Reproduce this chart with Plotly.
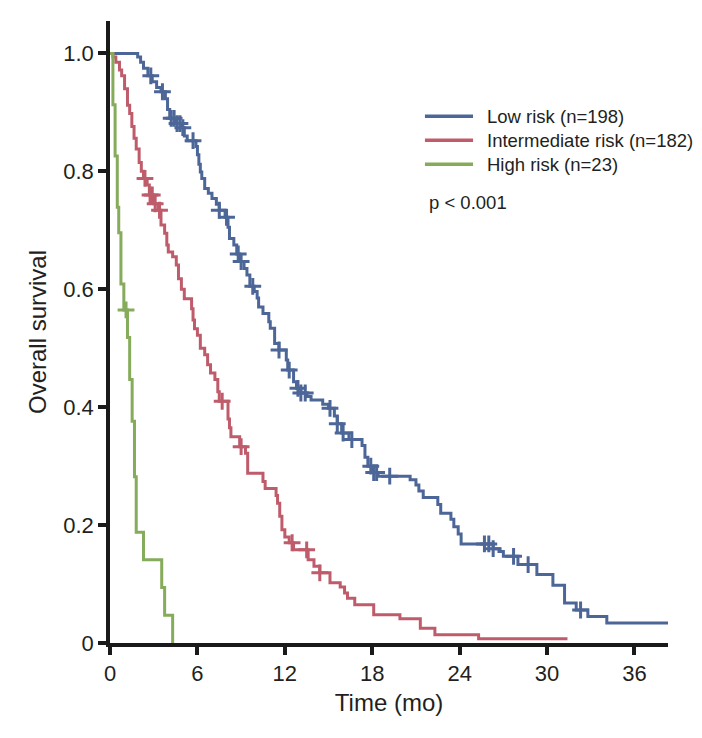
import numpy as np
import plotly.graph_objects as go

# ---- data (time in months, survival proportion) ----
low_t = [0, 1.9, 2.1, 2.3, 2.6, 2.9, 3.2, 3.5, 3.8, 3.95, 4.1, 4.5, 4.9, 5.1, 5.3, 5.9, 6.0, 6.1, 6.2, 6.3,
         6.5, 6.75, 7.0, 7.3, 7.5, 7.9, 8.1, 8.2, 8.5, 8.7, 8.9, 9.2, 9.4, 9.6, 9.9, 10.1, 10.2, 10.5, 10.9, 11.0,
         11.3, 11.6, 12.1, 12.2, 12.6, 12.8, 13.1, 13.5, 13.8, 14.6, 15.0, 15.4, 15.6, 15.9, 16.4, 17.3, 17.5, 17.7,
         18.0, 18.4, 20.6, 21.0, 21.2, 21.5, 22.5, 22.7, 23.4, 23.6, 23.9, 24.1, 26.3, 26.7, 27.0, 28.0, 29.3, 30.4,
         31.2, 32.0, 32.8, 34.1, 38.3]
low_s = [1.0, 0.994, 0.985, 0.975, 0.962, 0.952, 0.942, 0.935, 0.923, 0.905, 0.890, 0.881, 0.874, 0.860, 0.852,
         0.842, 0.828, 0.812, 0.799, 0.788, 0.771, 0.763, 0.754, 0.744, 0.734, 0.722, 0.705, 0.686, 0.675, 0.660,
         0.647, 0.635, 0.624, 0.605, 0.596, 0.585, 0.570, 0.559, 0.545, 0.534, 0.508, 0.497, 0.480, 0.463, 0.443,
         0.432, 0.424, 0.418, 0.412, 0.405, 0.398, 0.385, 0.372, 0.356, 0.345, 0.335, 0.315, 0.300, 0.289, 0.283,
         0.277, 0.268, 0.258, 0.247, 0.235, 0.220, 0.210, 0.197, 0.185, 0.168, 0.160, 0.155, 0.147, 0.133, 0.116,
         0.098, 0.068, 0.056, 0.045, 0.034, 0.034]
low_cens = [2.8, 3.6, 4.2, 4.4, 4.6, 4.8, 5.0, 5.7, 7.5, 8.0, 8.8, 9.0, 9.8, 11.6, 12.3, 12.9, 13.1, 13.4, 15.1,
            15.6, 16.0, 16.6, 17.9, 18.1, 18.3, 19.2, 25.7, 26.0, 26.3, 27.7, 28.7, 32.3]

int_t = [0, 0.2, 0.4, 0.65, 0.8, 1.0, 1.2, 1.35, 1.5, 1.65, 1.8, 2.0, 2.15, 2.3, 2.55, 2.7, 3.0, 3.3, 3.5, 3.75,
         3.9, 4.0, 4.3, 4.55, 4.7, 4.9, 5.1, 5.6, 5.7, 5.8, 6.0, 6.2, 6.5, 6.7, 6.9, 7.2, 7.4, 7.5, 8.1, 8.2, 8.3,
         8.9, 9.3, 9.45, 10.5, 10.65, 11.4, 11.5, 11.65, 11.8, 12.0, 12.3, 12.6, 13.6, 14.0, 14.4, 15.1, 15.8, 16.1,
         16.3, 16.8, 18.1, 19.9, 21.3, 22.3, 25.3, 31.4]
int_s = [1.0, 0.994, 0.985, 0.972, 0.962, 0.940, 0.912, 0.898, 0.876, 0.856, 0.838, 0.815, 0.800, 0.788, 0.777,
         0.760, 0.745, 0.734, 0.709, 0.695, 0.675, 0.663, 0.655, 0.641, 0.618, 0.600, 0.584, 0.567, 0.548, 0.533,
         0.522, 0.500, 0.489, 0.472, 0.458, 0.447, 0.426, 0.410, 0.380, 0.365, 0.350, 0.333, 0.322, 0.288, 0.274,
         0.262, 0.250, 0.237, 0.215, 0.192, 0.180, 0.170, 0.158, 0.141, 0.130, 0.119, 0.102, 0.095, 0.085, 0.076,
         0.065, 0.048, 0.041, 0.025, 0.014, 0.007, 0.007]
int_cens = [2.4, 2.75, 2.9, 3.1, 3.4, 7.7, 9.0, 12.5, 13.5, 14.4]

high_t = [0, 0.2, 0.35, 0.5, 0.6, 0.75, 0.95, 1.2, 1.35, 1.52, 1.68, 1.8, 2.3, 3.55, 3.75, 4.3]
high_s = [1.0, 0.913, 0.826, 0.739, 0.696, 0.609, 0.565, 0.518, 0.447, 0.376, 0.282, 0.188, 0.141, 0.094, 0.047, 0.0]
high_cens = [1.1]

series = [
    ("Low risk (n=198)", low_t, low_s, low_cens, "#4c6698"),
    ("Intermediate risk (n=182)", int_t, int_s, int_cens, "#bf5c6b"),
    ("High risk (n=23)", high_t, high_s, high_cens, "#86ab5b"),
]

x_ticks = [0, 6, 12, 18, 24, 30, 36]
y_ticks = [0, 0.2, 0.4, 0.6, 0.8, 1.0]
y_tick_text = ["0", "0.2", "0.4", "0.6", "0.8", "1.0"]

FONT = "Liberation Sans, Arial, sans-serif"
TXT = "#231f20"

fig = go.Figure()
for name, t, s, cens, col in series:
    fig.add_trace(go.Scatter(x=t, y=s, mode="lines", line=dict(color=col, width=3, shape="hv"),
                             name=name, showlegend=False, hoverinfo="skip"))
    t_arr = np.array(t)
    idx = np.searchsorted(t_arr, np.array(cens), side="right") - 1
    cy = np.array(s)[idx]
    fig.add_trace(go.Scatter(x=cens, y=cy, mode="markers",
                             marker=dict(symbol="cross-thin", size=12, color=col,
                                         line=dict(color=col, width=3)),
                             showlegend=False, hoverinfo="skip"))

# custom legend (paper coordinates)
leg_x0, leg_x1, leg_tx = 0.5644, 0.6506, 0.6721
leg_y = [0.8469, 0.8084, 0.7698]
for (name, _, _, _, col), yy in zip(series, leg_y):
    fig.add_shape(type="line", xref="paper", yref="paper", x0=leg_x0, x1=leg_x1, y0=yy, y1=yy,
                  line=dict(color=col, width=3.5))
    fig.add_annotation(xref="paper", yref="paper", x=leg_tx, y=yy, text=name, showarrow=False,
                       xanchor="left", yanchor="middle", font=dict(family=FONT, size=18.5, color=TXT))
fig.add_annotation(xref="paper", yref="paper", x=0.5674, y=0.7088, text="p &lt; 0.001", showarrow=False,
                   xanchor="left", yanchor="middle", font=dict(family=FONT, size=18.5, color=TXT))

axis_common = dict(showline=True, linecolor="#1a1a1a", linewidth=3.5, ticks="outside", ticklen=8,
                   tickwidth=3.5, tickcolor="#1a1a1a", showgrid=False, zeroline=False,
                   tickfont=dict(family=FONT, size=22, color=TXT), mirror=False)

fig.update_layout(
    width=702, height=738,
    margin=dict(l=110, r=34, t=21, b=95),
    paper_bgcolor="white", plot_bgcolor="white",
    hovermode=False,
    xaxis=dict(range=[0, 38.3], tickvals=x_ticks, ticktext=[str(v) for v in x_ticks],
               title=dict(text="Time (mo)", font=dict(family=FONT, size=24, color=TXT), standoff=10),
               **axis_common),
    yaxis=dict(range=[0, 1.055], tickvals=y_ticks, ticktext=y_tick_text,
               title=dict(text="Overall survival", font=dict(family=FONT, size=24, color=TXT), standoff=11),
               **axis_common),
)

fig.write_html("out.html", config={"displayModeBar": False},
               post_script="document.body.style.margin='0';")
